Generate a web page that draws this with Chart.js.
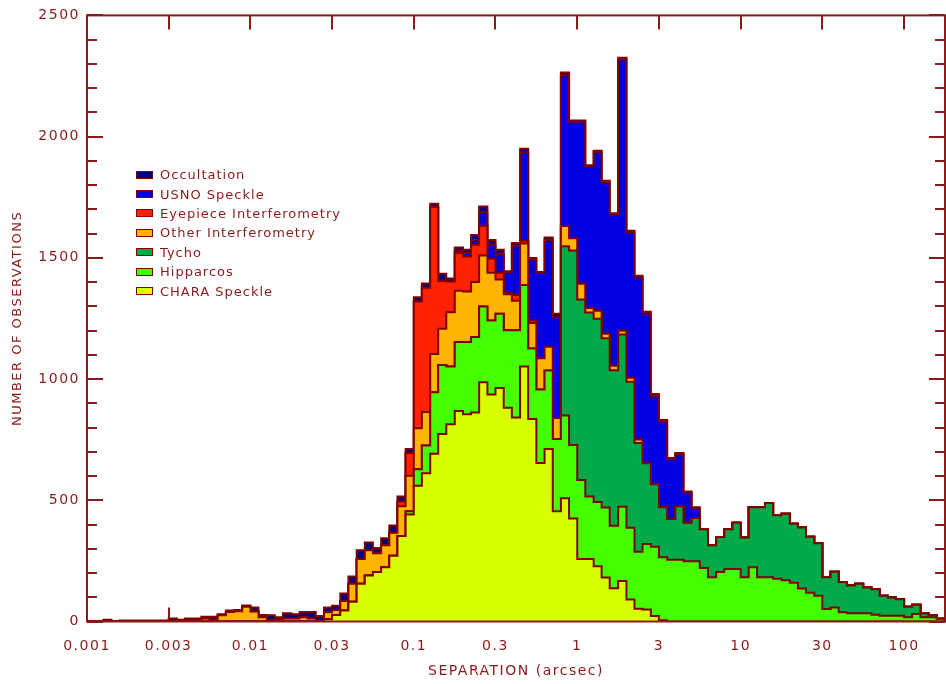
<!DOCTYPE html>
<html>
<head>
<meta charset="utf-8">
<script src="https://cdn.jsdelivr.net/npm/chart.js@4/dist/chart.umd.min.js"></script>
<style>
html,body{margin:0;padding:0;background:#ffffff;}
#wrap{position:relative;width:946px;height:684px;overflow:hidden;}
#c{position:absolute;left:0;top:0;}
#legend{position:absolute;left:136px;top:165px;font-family:'DejaVu Sans',sans-serif;font-size:13px;color:#8b1a1a;letter-spacing:1px;}
#legend .row{height:19.4px;display:flex;align-items:center;white-space:nowrap;}
#legend .sw{box-sizing:border-box;width:17px;height:8px;border:1.5px solid #800000;margin-right:7px;}
</style>
</head>
<body>
<div id="wrap">
<canvas id="c" width="946" height="684"></canvas>
<div id="legend"></div>
</div>
<script>
// Histogram bin edges (arcsec), 20 bins per decade
const binEdges = [
  0.001,0.00112,0.00126,0.00141,0.00158,0.00178,0.002,0.00224,0.00251,0.00282,
  0.00316,0.00355,0.00398,0.00447,0.00501,0.00562,0.00631,0.00708,0.00794,0.00891,
  0.01,0.0112,0.0126,0.0141,0.0158,0.0178,0.02,0.0224,0.0251,0.0282,
  0.0316,0.0355,0.0398,0.0447,0.0501,0.0562,0.0631,0.0708,0.0794,0.0891,
  0.1,0.112,0.126,0.141,0.158,0.178,0.2,0.224,0.251,0.282,
  0.316,0.355,0.398,0.447,0.501,0.562,0.631,0.708,0.794,0.891,
  1,1.12,1.26,1.41,1.58,1.78,2,2.24,2.51,2.82,
  3.16,3.55,3.98,4.47,5.01,5.62,6.31,7.08,7.94,8.91,
  10,11.2,12.6,14.1,15.8,17.8,20,22.4,25.1,28.2,
  31.6,35.5,39.8,44.7,50.1,56.2,63.1,70.8,79.4,89.1,
  100,112,126,141,158,178
];

const xTickValues = [0.001,0.00316,0.01,0.0316,0.1,0.316,1,3.16,10,31.6,100];
const xTickLabels = ['0.001','0.003','0.01','0.03','0.1','0.3','1','3','10','30','100'];
const yTickLabels = ['0','500','1000','1500','2000','2500'];

// counts per bin for each source (stacked bottom to top)
const charaSpeckle = [
  0,0,0,0,0,0,0,0,0,0, 0,0,0,0,0,0,0,0,0,0, 0,0,0,0,0,0,0,0,0,9,
  27,45,81,156,190,204,224,271,353,441, 560,611,692,773,814,868,855,862,987,936,
  963,882,841,1052,835,654,712,455,508,425, 258,258,228,182,137,167,91,53,50,23,
  5,0,0,0,0,0,0,0,0,0, 0,0,0,0,0,0,0,0,0,0, 0,0,0,0,0,0,0,0,0,0, 0,0,0,0,0
];
const hipparcos = [
  0,0,0,0,0,0,0,0,0,0, 0,0,0,0,0,0,0,0,0,0, 0,0,0,0,0,0,0,0,0,0,
  0,0,0,0,0,0,0,0,0,14, 68,115,254,285,238,285,298,312,312,306,
  306,319,360,336,291,303,323,298,342,303, 326,258,265,288,258,306,296,235,270,285,
  260,255,255,248,248,221,183,204,217,217, 183,224,183,183,176,170,160,136,119,106,
  52,58,38,34,34,34,28,24,24,24, 18,31,18,18,11
];
const tycho = [
  0,0,0,0,0,0,0,0,0,0, 0,0,0,0,0,0,0,0,0,0, 0,0,0,0,0,0,0,0,0,0,
  0,0,0,0,0,0,0,0,0,0, 0,0,0,0,0,0,0,0,0,0,
  0,0,0,0,0,0,0,0,698,802, 744,759,756,698,641,711,602,448,333,258,
  206,168,220,159,179,159,132,145,163,190, 163,247,288,306,262,274,243,252,231,217,
  131,147,125,115,122,106,105,82,75,68, 43,38,16,9,0
];
const otherInterferometry = [
  0,0,0,0,0,0,0,0,0,0, 0,0,8,8,12,7,26,39,42,61, 41,18,5,10,12,12,18,12,0,29,
  20,40,75,102,104,77,91,95,122,146, 169,138,157,150,224,211,208,226,211,196,
  142,149,122,171,105,129,98,86,83,51, 65,18,33,19,19,15,16,15,0,0,
  0,0,0,0,0,0,0,0,0,0, 0,0,0,0,0,0,0,0,0,0, 0,0,0,0,0,0,0,0,0,0, 0,0,0,0,0
];
const eyepieceInterferometry = [
  0,0,0,0,0,0,0,0,0,0, 0,0,0,0,0,0,0,0,0,0, 0,0,0,0,0,0,0,0,0,0,
  0,0,0,0,0,0,0,0,20,94, 523,513,607,196,126,156,145,154,122,59,
  27,6,24,11,11,0,0,0,0,0, 0,0,0,0,0,0,0,0,0,0,
  0,0,0,0,0,0,0,0,0,0, 0,0,0,0,0,0,0,0,0,0, 0,0,0,0,0,0,0,0,0,0, 0,0,0,0,0
];
const usnoSpeckle = [
  0,0,0,0,0,0,0,0,0,0, 0,0,0,0,0,0,0,0,0,0, 0,0,0,0,0,0,0,0,0,0,
  0,0,0,0,0,0,0,0,0,0, 0,0,0,0,0,10,14,20,55,57,
  78,86,204,366,251,354,441,416,622,480, 668,584,655,626,625,1119,600,669,617,364,
  355,246,215,125,40,0,0,0,0,0, 0,0,0,0,0,0,0,0,0,0, 0,0,0,0,0,0,0,0,0,0, 0,0,0,0,0
];
const occultation = [
  0,0,7,0,4,4,4,4,4,4, 12,7,4,4,8,13,4,6,5,5, 17,9,21,8,22,18,21,27,23,20,
  18,30,30,36,32,22,28,30,21,17, 17,17,13,30,13,13,13,20,25,20,
  17,3,10,14,6,2,10,14,11,6, 6,5,5,5,4,7,7,6,8,8,
  5,5,5,4,4,0,0,0,0,0, 0,0,0,0,0,0,0,0,0,0, 0,0,0,0,0,0,0,0,0,0, 0,0,0,0,0
];

const seriesNames = ['CHARA Speckle','Hipparcos','Tycho','Other Interferometry','Eyepiece Interferometry','USNO Speckle','Occultation'];
const seriesValues = [charaSpeckle, hipparcos, tycho, otherInterferometry, eyepieceInterferometry, usnoSpeckle, occultation];
const seriesColors = ['#d8ff00','#44ff00','#00aa48','#ffb400','#ff2200','#0000e0','#00007e'];

const axisColor = '#8b1a1a';
const outlineColor = '#800000';
const yMax = 2500, yMajorStep = 500, yMinorStep = 100;
const fontFamily = "'DejaVu Sans', sans-serif";

function toSteps(vals){
  return binEdges.map((e, i) => ({x: e, y: vals[Math.min(i, vals.length - 1)]}));
}

const datasets = seriesValues.map((vals, i) => ({
  label: seriesNames[i],
  data: toSteps(vals),
  stepped: true,
  fill: i === 0 ? 'origin' : '-1',
  backgroundColor: seriesColors[i],
  borderColor: outlineColor,
  borderWidth: 2,
  pointRadius: 0,
  pointHoverRadius: 0,
  tension: 0
}));

const spacing = {
  id: 'spacing',
  beforeUpdate(chart){ chart.ctx.letterSpacing = '1.5px'; },
  beforeDraw(chart){ chart.ctx.letterSpacing = '1.5px'; }
};

const frame = {
  id: 'frame',
  beforeDatasetsDraw(chart){
    const {ctx, chartArea: a, scales: {x, y}} = chart;
    ctx.save();
    ctx.strokeStyle = axisColor;
    ctx.lineWidth = 2;
    ctx.beginPath();
    xTickValues.forEach(v => {
      const px = Math.round(x.getPixelForValue(v));
      ctx.moveTo(px, a.bottom); ctx.lineTo(px, a.bottom - 14);
      ctx.moveTo(px, a.top); ctx.lineTo(px, a.top + 14);
    });
    for (let v = 0; v <= yMax; v += yMinorStep) {
      const py = Math.round(y.getPixelForValue(v));
      const len = (v % yMajorStep === 0) ? 16 : 10;
      ctx.moveTo(a.left, py); ctx.lineTo(a.left + len, py);
      ctx.moveTo(a.right, py); ctx.lineTo(a.right - len, py);
    }
    ctx.stroke();
    ctx.restore();
  },
  afterDatasetsDraw(chart){
    const {ctx, chartArea: a} = chart;
    ctx.save();
    ctx.strokeStyle = axisColor;
    ctx.lineWidth = 2;
    ctx.strokeRect(a.left, a.top, a.right - a.left, a.bottom - a.top);
    ctx.restore();
  }
};

const chart = new Chart(document.getElementById('c'), {
  type: 'line',
  data: {datasets},
  plugins: [spacing, frame],
  options: {
    responsive: false,
    devicePixelRatio: 1,
    animation: false,
    events: [],
    layout: {padding: {top: 7, right: 1, left: 0, bottom: 0}},
    plugins: {legend: {display: false}, tooltip: {enabled: false}, filler: {propagate: false}},
    scales: {
      x: {
        type: 'logarithmic',
        min: binEdges[0],
        max: binEdges[binEdges.length - 1],
        afterBuildTicks(scale){ scale.ticks = xTickValues.map(v => ({value: v})); },
        afterFit(scale){ scale.height = 62.5; },
        grid: {display: false, drawTicks: false},
        border: {display: false},
        ticks: {
          autoSkip: false, maxRotation: 0, padding: 16,
          color: axisColor, font: {family: fontFamily, size: 14},
          callback: (v, i) => xTickLabels[i]
        },
        title: {display: true, text: 'SEPARATION (arcsec)', color: axisColor,
                font: {family: fontFamily, size: 14}, padding: {top: 0, bottom: 4}}
      },
      y: {
        stacked: true,
        min: 0, max: yMax,
        afterBuildTicks(scale){ scale.ticks = yTickLabels.map(t => ({value: Number(t)})); },
        afterFit(scale){ scale.width = 87; },
        grid: {display: false, drawTicks: false},
        border: {display: false},
        ticks: {
          padding: 7, color: axisColor, font: {family: fontFamily, size: 14},
          callback: (v, i) => yTickLabels[i]
        },
        title: {display: true, text: 'NUMBER OF OBSERVATIONS', color: axisColor,
                font: {family: fontFamily, size: 13}, padding: {top: 10, bottom: 0}}
      }
    }
  }
});

// legend built from the chart datasets, top layer first
const legendEl = document.getElementById('legend');
chart.data.datasets.slice().reverse().forEach(ds => {
  const row = document.createElement('div');
  row.className = 'row';
  const sw = document.createElement('span');
  sw.className = 'sw';
  sw.style.background = ds.backgroundColor;
  const tx = document.createElement('span');
  tx.textContent = ds.label;
  row.appendChild(sw); row.appendChild(tx);
  legendEl.appendChild(row);
});
</script>
</body>
</html>
